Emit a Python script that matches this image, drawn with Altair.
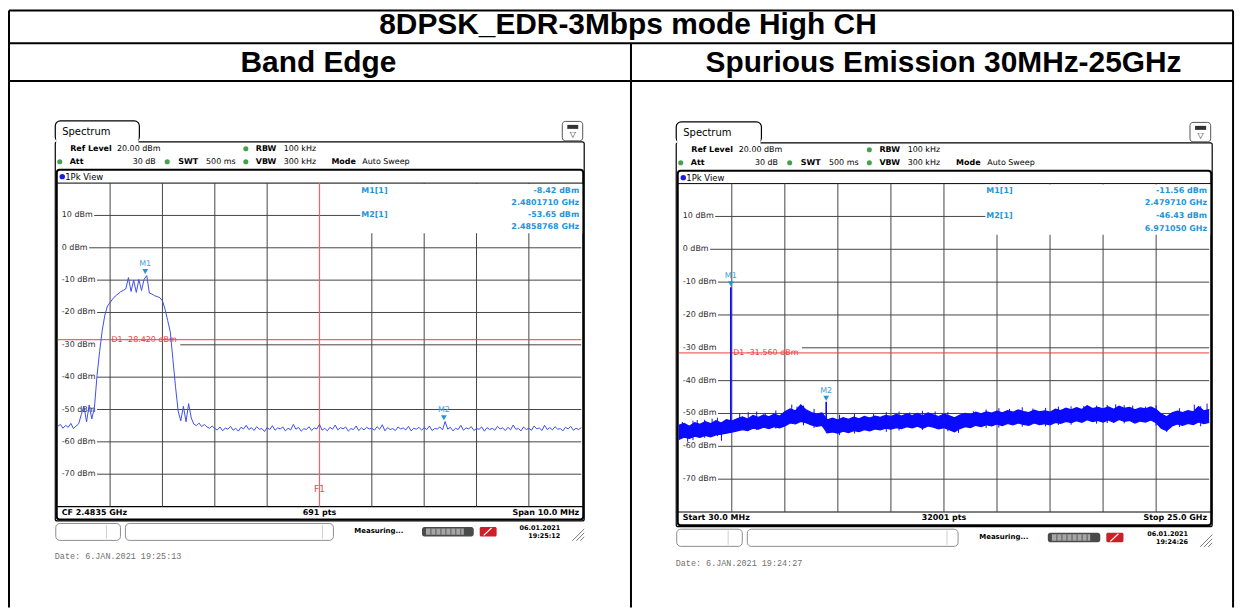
import altair as alt
import numpy as np
import pandas as pd

# ------------------------------------------------------------------ values
TITLE = "8DPSK_EDR-3Mbps mode High CH"
COLUMN_TITLES = ["Band Edge", "Spurious Emission 30MHz-25GHz"]

LEVELS = [10, 0, -10, -20, -30, -40, -50, -60, -70]
LEVEL_LABELS = ["10 dBm", "0 dBm", "-10 dBm", "-20 dBm", "-30 dBm",
                "-40 dBm", "-50 dBm", "-60 dBm", "-70 dBm"]
REF_LEVEL, BOTTOM_LEVEL = 20, -80

SETTING_NAMES = ["Ref Level", "RBW", "Att", "SWT", "VBW", "Mode"]
SETTING_VALUES = ["20.00 dBm", "100 kHz", "30 dB", "500 ms", "300 kHz", "Auto Sweep"]

# ---- Band Edge (MHz, dBm)
BE_START, BE_STOP, BE_STEP = 2478.5, 2488.5, 0.05
BE_LEVEL = [
    -55.2, -54.6, -55.8, -54.9, -55.5, -54.3, -55.9, -55.1, -54.4,
    -51.5, -49.0, -53.8, -48.6, -52.9,
    -49.5, -39.5, -32.0, -25.5, -20.8, -18.0, -16.9, -15.8, -14.9, -14.3, -13.6, -13.2, -12.7,
    -9.2, -13.5, -10.0, -13.8, -9.8, -13.2, -9.7, -8.6, -14.0,
    -14.3, -14.8, -15.1, -15.4, -16.4, -19.0, -22.5, -26.0, -34.5, -43.0, -50.5,
    -53.5, -49.0, -53.8, -48.2, -52.6, -54.5, -55.0, -54.2, -55.3, -54.6, -55.4, -55.8, -55.1,
    -55.9, -56.3, -55.4, -56.6, -55.7, -56.1, -55.2, -56.4, -55.8, -56.7,
    -55.5, -56.0, -54.9, -56.2, -55.6, -56.5, -55.3, -56.1, -55.9, -56.8,
    -55.6, -56.2, -55.0, -56.4, -55.7, -56.0, -55.4, -56.6, -55.8, -56.3,
    -54.6, -56.1, -55.5, -56.7, -55.9, -56.2, -55.3, -56.5, -55.7, -56.0,
    -54.6, -56.4, -55.8, -56.6, -55.5, -56.1, -54.8, -56.3, -55.6, -56.0,
    -55.4, -56.7, -55.9, -56.2, -55.1, -56.5, -55.7, -56.3, -55.5, -56.0,
    -55.8, -56.4, -55.3, -56.1, -54.7, -56.6, -55.6, -56.2, -55.9, -56.5,
    -55.4, -56.0, -55.7, -56.3, -55.2, -56.6, -55.8, -56.1, -55.5, -56.4,
    -55.6, -56.2, -55.1, -56.5, -55.9, -56.0, -55.4, -56.3, -53.7, -56.1,
    -55.5, -56.6, -55.8, -56.2, -54.9, -56.4, -55.7, -56.0, -55.3, -56.5,
    -55.9, -56.1, -55.4, -56.7, -55.6, -56.2, -55.8, -56.4, -55.2, -56.0,
    -55.7, -56.5, -55.5, -56.3, -54.8, -56.1, -55.9, -56.6, -55.4, -56.2,
    -55.8, -56.4, -55.1, -56.0, -55.7, -56.5, -54.9, -56.2, -55.6, -56.3,
    -55.3, -56.1, -55.9, -56.6, -55.5, -56.0, -55.2, -56.4, -55.8, -56.2, -55.6,
]
BE_D1 = -28.420
BE_F1 = 2483.5
BE_MARKER_NAMES = ["M1", "M2"]
BE_MARKER_FREQ = [2480.1710, 2485.8768]
BE_MARKER_LEVEL = [-8.42, -53.65]
BE_MARKER_FREQ_TEXT = ["2.4801710 GHz", "2.4858768 GHz"]
BE_FOOTER = ["CF 2.4835 GHz", "691 pts", "Span 10.0 MHz"]
BE_CLOCK = ["06.01.2021", "19:25:12"]
BE_DATE = "Date: 6.JAN.2021  19:25:13"

# ---- Spurious emission (GHz, dBm) : noise band upper / lower edge
SP_START, SP_STOP = 0.03, 25.0
SP_UPPER = [
    -53.6, -53.0, -53.9, -52.8, -53.3, -52.5, -53.1, -52.2, -52.9, -51.9,
    -52.3, -51.6, -51.0, -51.7, -50.6, -51.2, -50.4, -51.0, -50.2, -50.8,
    -49.5, -48.6, -49.2, -47.4, -48.9, -49.7, -50.2, -49.8, -51.9, -51.4,
    -52.0, -51.3, -51.8, -51.1, -51.6, -50.9, -51.4, -50.8, -51.2, -50.6,
    -50.9, -50.3, -50.8, -50.1, -50.6, -50.0, -50.7, -49.8, -50.4, -50.9,
    -50.2, -50.7, -51.3, -50.5, -50.0, -50.4, -49.6, -50.1, -49.5, -49.9,
    -49.3, -49.8, -49.1, -49.6, -48.9, -49.4, -49.7, -49.0, -49.5, -49.2,
    -49.6, -48.7, -49.1, -48.4, -48.9, -48.2, -48.8, -47.6, -48.5, -48.1,
    -48.6, -48.0, -48.7, -47.8, -48.4, -48.1, -48.9, -48.3, -48.6, -48.0,
    -48.8, -50.2, -51.0, -49.8, -49.3, -49.7, -49.1, -49.5, -47.9, -49.2, -48.8,
]
SP_LOWER = [
    -57.9, -57.2, -57.6, -56.9, -57.3, -56.7, -57.1, -56.5, -56.3, -56.0,
    -55.7, -55.3, -54.9, -55.2, -54.5, -54.8, -54.2, -54.6, -54.0, -54.4,
    -53.8, -52.9, -53.2, -52.4, -52.8, -53.5, -53.9, -53.6, -55.9, -55.6,
    -56.0, -55.4, -55.8, -55.2, -55.5, -54.9, -55.3, -54.7, -55.0, -54.5,
    -54.8, -54.3, -54.6, -54.0, -54.4, -53.9, -54.5, -53.8, -54.2, -54.7,
    -54.3, -54.9, -55.6, -54.6, -54.0, -54.3, -53.6, -54.0, -53.4, -53.8,
    -53.2, -53.7, -53.0, -53.5, -52.9, -53.3, -53.6, -52.9, -53.4, -53.1,
    -53.5, -52.7, -53.0, -52.4, -52.8, -52.2, -52.7, -51.9, -52.5, -52.1,
    -52.6, -52.0, -52.7, -51.8, -52.4, -52.1, -52.9, -52.3, -52.6, -52.0,
    -52.8, -54.6, -55.2, -53.8, -53.2, -53.6, -53.0, -53.4, -52.6, -53.1, -52.7,
]
SP_SPIKE_FREQ = [0.2, 0.45, 0.7, 0.9, 1.25, 1.6, 1.85, 2.04, 2.9, 3.3, 3.7, 4.1, 4.6, 5.35, 5.6, 5.9,
                 6.4, 6.98, 7.6, 8.3, 9.2, 9.8, 10.4, 10.9, 11.5, 12.1, 12.7, 13.2, 13.9, 14.5,
                 15.1, 15.6, 16.2, 16.7, 17.3, 17.9, 18.5, 19.1, 19.7, 20.2, 20.6, 21.0, 21.4,
                 22.0, 22.5, 23.0, 23.6, 24.3, 24.6, 24.9]
SP_SPIKE_TOP = [-52.6, -55.0, -52.2, -52.0, -51.9, -51.6, -51.3, -53.5, -49.9, -49.6, -49.4, -49.9,
                -49.1, -47.3, -47.9, -47.6, -48.6, -52.5, -50.4, -50.1, -50.2, -49.6, -49.4, -49.7,
                -49.2, -49.4, -49.6, -52.5, -49.3, -48.8, -48.4, -48.6, -48.1, -48.5, -48.3, -47.9,
                -47.8, -47.7, -47.6, -47.4, -47.2, -47.5, -47.6, -47.9, -47.5, -52.0, -48.4, -47.3,
                -47.8, -47.0]
SP_SPIKE_BOTTOM = [-56.0, -58.6, -58.1, -55.5, -57.4, -55.0, -56.9, -58.3, -55.2, -53.0, -55.0, -53.0,
                   -54.6, -51.0, -51.0, -53.6, -54.4, -56.0, -56.6, -56.1, -53.5, -55.6, -55.2, -53.0,
                   -55.0, -53.0, -55.4, -55.9, -52.5, -54.4, -54.3, -52.0, -54.0, -52.0, -53.9, -53.5,
                   -53.4, -51.5, -53.1, -52.9, -51.0, -53.0, -51.0, -51.5, -53.6, -55.6, -54.1, -51.5,
                   -53.9, -51.5]
SP_D1 = -31.560
SP_MARKER_NAMES = ["M1", "M2"]
SP_MARKER_FREQ = [2.479710, 6.971050]
SP_MARKER_LEVEL = [-11.56, -46.43]
SP_MARKER_FOOT = [-55.8, -52.5]
SP_MARKER_FREQ_TEXT = ["2.479710 GHz", "6.971050 GHz"]
SP_FOOTER = ["Start 30.0 MHz", "32001 pts", "Stop 25.0 GHz"]
SP_CLOCK = ["06.01.2021", "19:24:26"]
SP_DATE = "Date: 6.JAN.2021  19:24:27"

# ------------------------------------------------------------------ layout helpers
OFF = 8
W, H = 1243, 601
ONE = pd.DataFrame({"k": [0]})
SANS = "DejaVu Sans"
GRID = "#454545"
RED = "#ee3b3b"
MARK = "#1f95d8"
layers = []


def rect(x0, y0, x1, y1, fill="white", stroke=None, sw=1.0, r=0, fo=1.0):
    kw = dict(fill=fill, fillOpacity=fo, cornerRadius=r)
    if stroke:
        kw.update(stroke=stroke, strokeWidth=sw)
    layers.append(alt.Chart(ONE).mark_rect(**kw).encode(
        x=alt.value(x0 - OFF), x2=alt.value(x1 - OFF),
        y=alt.value(y0 - OFF), y2=alt.value(y1 - OFF)))


def seg(x0, y0, x1, y1, color="black", sw=1.0):
    layers.append(alt.Chart(ONE).mark_rule(color=color, strokeWidth=sw).encode(
        x=alt.value(x0 - OFF), x2=alt.value(x1 - OFF),
        y=alt.value(y0 - OFF), y2=alt.value(y1 - OFF)))


def txt(x, y, s, size=8, color="black", weight="normal", align="left", font=SANS):
    layers.append(alt.Chart(ONE).mark_text(
        text=s, fontSize=size, color=color, fontWeight=weight, align=align,
        baseline="middle", font=font).encode(x=alt.value(x - OFF), y=alt.value(y - OFF)))


def dot(x, y, color, size=26):
    layers.append(alt.Chart(ONE).mark_point(
        shape="circle", filled=True, color=color, size=size, opacity=1).encode(
        x=alt.value(x - OFF), y=alt.value(y - OFF)))


CW = {"0": .636, "1": .636, "2": .636, "3": .636, "4": .636, "5": .636, "6": .636,
      "7": .636, "8": .636, "9": .636, " ": .318, "-": .361, ".": .318,
      "d": .635, "B": .686, "m": .974, "D": .770}


def tw(s, size=8):
    return size * sum(CW.get(c, .6) for c in s)


# ------------------------------------------------------------------ table frame
seg(9, 9, 1239, 9, sw=2)
seg(9, 42, 1239, 42, sw=2)
seg(9, 80, 1239, 80, sw=2)
seg(9, 9, 9, 609, sw=2)
seg(1239, 9, 1239, 609, sw=2)
seg(634, 42, 634, 609, sw=2)
txt(631, 24, TITLE, size=30, weight="bold", align="center", font="Liberation Sans")
txt(320, 62, COLUMN_TITLES[0], size=30, weight="bold", align="center", font="Liberation Sans")
txt(948, 62, COLUMN_TITLES[1], size=30, weight="bold", align="center", font="Liberation Sans")


# ------------------------------------------------------------------ spectrum panel
def panel(p):
    X, Y = p["X"], p["Y"]
    f0, f1 = p["f0"], p["f1"]
    xs = alt.Scale(domain=[f0, f1], range=[X(58) - OFF, X(584) - OFF], nice=False, zero=False)
    ys = alt.Scale(domain=[BOTTOM_LEVEL, REF_LEVEL], range=[Y(507.5) - OFF, Y(182.5) - OFF],
                   nice=False, zero=False)
    ppf = (X(584) - X(58)) / (f1 - f0)

    def px2f(px):
        return f0 + (px - X(58)) / ppf

    def ex(field):
        return alt.X(f"{field}:Q", scale=xs, axis=None)

    def ey(field):
        return alt.Y(f"{field}:Q", scale=ys, axis=None)

    # outer frame and tab
    rect(X(55.5), Y(141), X(587), Y(522), stroke="black", sw=1.2, r=2)
    rect(X(55.5), Y(120), X(140), Y(141), stroke="black", sw=1.2, r=5)
    rect(X(56.4), Y(137), X(139.1), Y(143.5))
    txt(X(62.5), Y(131), "Spectrum", size=10)
    rect(X(565), Y(120.5), X(585.5), Y(140), stroke="#555555", sw=1, r=3)
    rect(X(570), Y(124), X(581), Y(128), fill="#333333")
    txt(X(575.5), Y(134), "\u25BD", size=8, color="#333333", align="center")

    # settings
    green = "#46a04f"
    txt(X(70.5), Y(148), SETTING_NAMES[0], weight="bold")
    txt(X(117.5), Y(148), SETTING_VALUES[0])
    dot(X(247), Y(148), green)
    txt(X(257), Y(148), SETTING_NAMES[1], weight="bold")
    txt(X(285), Y(148), SETTING_VALUES[1])
    dot(X(60), Y(161), green)
    txt(X(70), Y(161), SETTING_NAMES[2], weight="bold")
    txt(X(156.5), Y(161), SETTING_VALUES[2], align="right")
    dot(X(168), Y(161), green)
    txt(X(179), Y(161), SETTING_NAMES[3], weight="bold")
    txt(X(207), Y(161), SETTING_VALUES[3])
    dot(X(247), Y(161), green)
    txt(X(257), Y(161), SETTING_NAMES[4], weight="bold")
    txt(X(285), Y(161), SETTING_VALUES[4])
    txt(X(333), Y(161), SETTING_NAMES[5], weight="bold")
    txt(X(364), Y(161), SETTING_VALUES[5])

    # view box
    rect(X(57), Y(169), X(586), Y(520.5), stroke="black", sw=2, r=3)
    dot(X(62.5), Y(176), "#1a1ae6", 30)
    txt(X(65.5), Y(176), "1Pk View", size=8.5)
    seg(X(57), Y(182.5), X(586), Y(182.5), sw=1)
    seg(X(57), Y(507.5), X(586), Y(507.5), sw=1.2)

    # grid (vertical lines span the full level range through the y scale)
    vdf = pd.DataFrame({"f": [f0 + k * (f1 - f0) / 10 for k in range(1, 10)],
                        "top": REF_LEVEL, "bot": BOTTOM_LEVEL})
    layers.append(alt.Chart(vdf).mark_rule(color=GRID, strokeWidth=1).encode(
        x=ex("f"), y=ey("top"), y2=alt.Y2("bot")))
    d1_text = f"D1  {p['d1']:.3f} dBm"
    starts = []
    for lv, lab in zip(LEVELS, LEVEL_LABELS):
        if lv == -30:
            starts.append(px2f(X(112) + tw(d1_text) + 1))
        else:
            starts.append(px2f(X(62) + tw(lab) + 1.5))
    hdf = pd.DataFrame({"lv": LEVELS, "fs": starts, "fe": [f1] * len(LEVELS), "lab": LEVEL_LABELS})
    layers.append(alt.Chart(hdf).mark_rule(color=GRID, strokeWidth=1).encode(
        x=ex("fs"), x2=alt.X2("fe"), y=ey("lv")))
    layers.append(alt.Chart(hdf).mark_text(
        fontSize=8, font=SANS, color="#2a2a2a", align="left", baseline="middle").encode(
        x=alt.value(X(62) - OFF), y=ey("lv"), text="lab:N"))

    # marker table
    rect(X(362), Y(183.5), X(585), Y(233))
    txt(X(363), Y(190), "M1[1]", color=MARK, weight="bold")
    txt(X(582), Y(190), f"{p['mlev'][0]:.2f} dBm", color=MARK, weight="bold", align="right")
    txt(X(582), Y(202), p["mftxt"][0], color=MARK, weight="bold", align="right")
    txt(X(363), Y(214.5), "M2[1]", color=MARK, weight="bold")
    txt(X(582), Y(214.5), f"{p['mlev'][1]:.2f} dBm", color=MARK, weight="bold", align="right")
    txt(X(582), Y(227), p["mftxt"][1], color=MARK, weight="bold", align="right")

    # display line D1
    ddf = pd.DataFrame({"lv": [p["d1"]], "t": [d1_text]})
    layers.append(alt.Chart(ddf).mark_rule(color=RED, strokeWidth=1).encode(
        x=alt.value(X(58) - OFF), x2=alt.value(X(584) - OFF), y=ey("lv")))
    layers.append(alt.Chart(ddf).mark_text(
        fontSize=8, font=SANS, color=RED, align="left", baseline="middle").encode(
        x=alt.value(X(112) - OFF), y=ey("lv"), text="t:N"))

    # frequency line F1
    if p.get("f1line") is not None:
        fdf = pd.DataFrame({"f": [p["f1line"]], "t": ["F1"], "top": [REF_LEVEL], "bot": [BOTTOM_LEVEL]})
        layers.append(alt.Chart(fdf).mark_rule(color="#f26464", strokeWidth=1.2).encode(
            x=ex("f"), y=ey("top"), y2=alt.Y2("bot")))
        layers.append(alt.Chart(fdf).mark_text(
            fontSize=9, font=SANS, color="#e84848", align="center", baseline="middle").encode(
            x=ex("f"), y=alt.value(Y(490) - OFF), text="t:N"))

    # trace
    for lyr in p["trace"](ex, ey):
        layers.append(lyr)

    # markers
    mdf = pd.DataFrame({"f": p["mfreq"], "lv": p["mlev"], "n": p["mnames"]})
    layers.append(alt.Chart(mdf).mark_point(
        shape="triangle-down", filled=True, color=MARK, size=34, opacity=1, yOffset=-3.5).encode(
        x=ex("f"), y=ey("lv")))
    layers.append(alt.Chart(mdf).mark_text(
        fontSize=8, font=SANS, color="#3fa2de", align="center", baseline="middle", dy=-11).encode(
        x=ex("f"), y=ey("lv"), text="n:N"))

    # footer
    txt(X(62), Y(513.5), p["footer"][0], weight="bold")
    txt(X(321), Y(513.5), p["footer"][1], weight="bold", align="center")
    txt(X(582), Y(513.5), p["footer"][2], weight="bold", align="right")

    # status bar
    rect(X(56), Y(524.5), X(121), Y(541.5), stroke="#8c8c8c", sw=1, r=4)
    seg(X(107), Y(526), X(107), Y(540), color="#cfcfcf")
    rect(X(126), Y(524.5), X(335), Y(541.5), stroke="#8c8c8c", sw=1, r=4)
    seg(X(324), Y(526), X(324), Y(540), color="#cfcfcf")
    txt(X(356), Y(532.5), "Measuring...", size=7, weight="bold")
    rect(X(424), Y(528), X(476), Y(537.5), fill="#4a4a4a", r=2.5)
    rect(X(428), Y(529.6), X(466), Y(535.9), fill="#a6a6a6")
    for sx in [433, 438, 443, 448, 453, 458, 463]:
        seg(X(sx), Y(529.6), X(sx), Y(535.9), color="#5a5a5a")
    rect(X(482), Y(528), X(499), Y(537.5), fill="#cc1f2a", r=1.5)
    seg(X(486), Y(536.5), X(494), Y(529), color="white", sw=1.2)
    txt(X(563), Y(529), p["clock"][0], size=6.5, weight="bold", align="right")
    txt(X(563), Y(537), p["clock"][1], size=6.5, weight="bold", align="right")
    for a in [0, 4, 8]:
        seg(X(575 + a), Y(542), X(587), Y(530 + a), color="#7a7a7a")

    txt(X(55), Y(557.5), p["date"], size=8.5, color="#707070", font="Liberation Mono")


# ---- band edge trace
BE_FREQ = BE_START + BE_STEP * np.arange(len(BE_LEVEL))
be_df = pd.DataFrame({"f": BE_FREQ, "lv": BE_LEVEL})


def be_trace(ex, ey):
    return [alt.Chart(be_df).mark_line(color="#3d4ef0", strokeWidth=1).encode(x=ex("f"), y=ey("lv"))]


# ---- spurious trace
SP_FREQ = np.linspace(SP_START, SP_STOP, len(SP_UPPER))
sp_df = pd.DataFrame({"f": SP_FREQ, "hi": SP_UPPER, "lo": SP_LOWER})
sp_spk = pd.DataFrame({"f": SP_SPIKE_FREQ, "hi": SP_SPIKE_TOP, "lo": SP_SPIKE_BOTTOM})
sp_pk = pd.DataFrame({"f": SP_MARKER_FREQ, "hi": SP_MARKER_LEVEL, "lo": SP_MARKER_FOOT})
BLUE = "#0a0aff"


def sp_trace(ex, ey):
    return [
        alt.Chart(sp_df).mark_area(color=BLUE, opacity=1).encode(x=ex("f"), y=ey("hi"), y2=alt.Y2("lo")),
        alt.Chart(sp_df).mark_line(color=BLUE, strokeWidth=1.2).encode(x=ex("f"), y=ey("hi")),
        alt.Chart(sp_df).mark_line(color=BLUE, strokeWidth=1.2).encode(x=ex("f"), y=ey("lo")),
        alt.Chart(sp_spk).mark_rule(color=BLUE, strokeWidth=1).encode(x=ex("f"), y=ey("hi"), y2=alt.Y2("lo")),
        alt.Chart(sp_pk).mark_rule(color=BLUE, strokeWidth=1.6).encode(x=ex("f"), y=ey("hi"), y2=alt.Y2("lo")),
    ]


panel(dict(
    X=lambda x: x, Y=lambda y: y,
    f0=BE_START, f1=BE_STOP, d1=BE_D1, f1line=BE_F1,
    mnames=BE_MARKER_NAMES, mfreq=BE_MARKER_FREQ, mlev=BE_MARKER_LEVEL, mftxt=BE_MARKER_FREQ_TEXT,
    footer=BE_FOOTER, clock=BE_CLOCK, date=BE_DATE, trace=be_trace))

SX = 533 / 526
SY = 330 / 325
panel(dict(
    X=lambda x: 682 + (x - 58) * SX,
    Y=lambda y: (y + 1) if y < 182.5 else 183 + (y - 182.5) * SY,
    f0=SP_START, f1=SP_STOP, d1=SP_D1, f1line=None,
    mnames=SP_MARKER_NAMES, mfreq=SP_MARKER_FREQ, mlev=SP_MARKER_LEVEL, mftxt=SP_MARKER_FREQ_TEXT,
    footer=SP_FOOTER, clock=SP_CLOCK, date=SP_DATE, trace=sp_trace))

chart = alt.layer(*layers).resolve_scale(x="independent", y="independent").properties(
    width=W, height=H, padding=0, autosize=alt.AutoSizeParams(type="none"), background="white"
).configure_view(stroke=None)

chart.save("out.html", embed_options={"renderer": "svg", "actions": False})
